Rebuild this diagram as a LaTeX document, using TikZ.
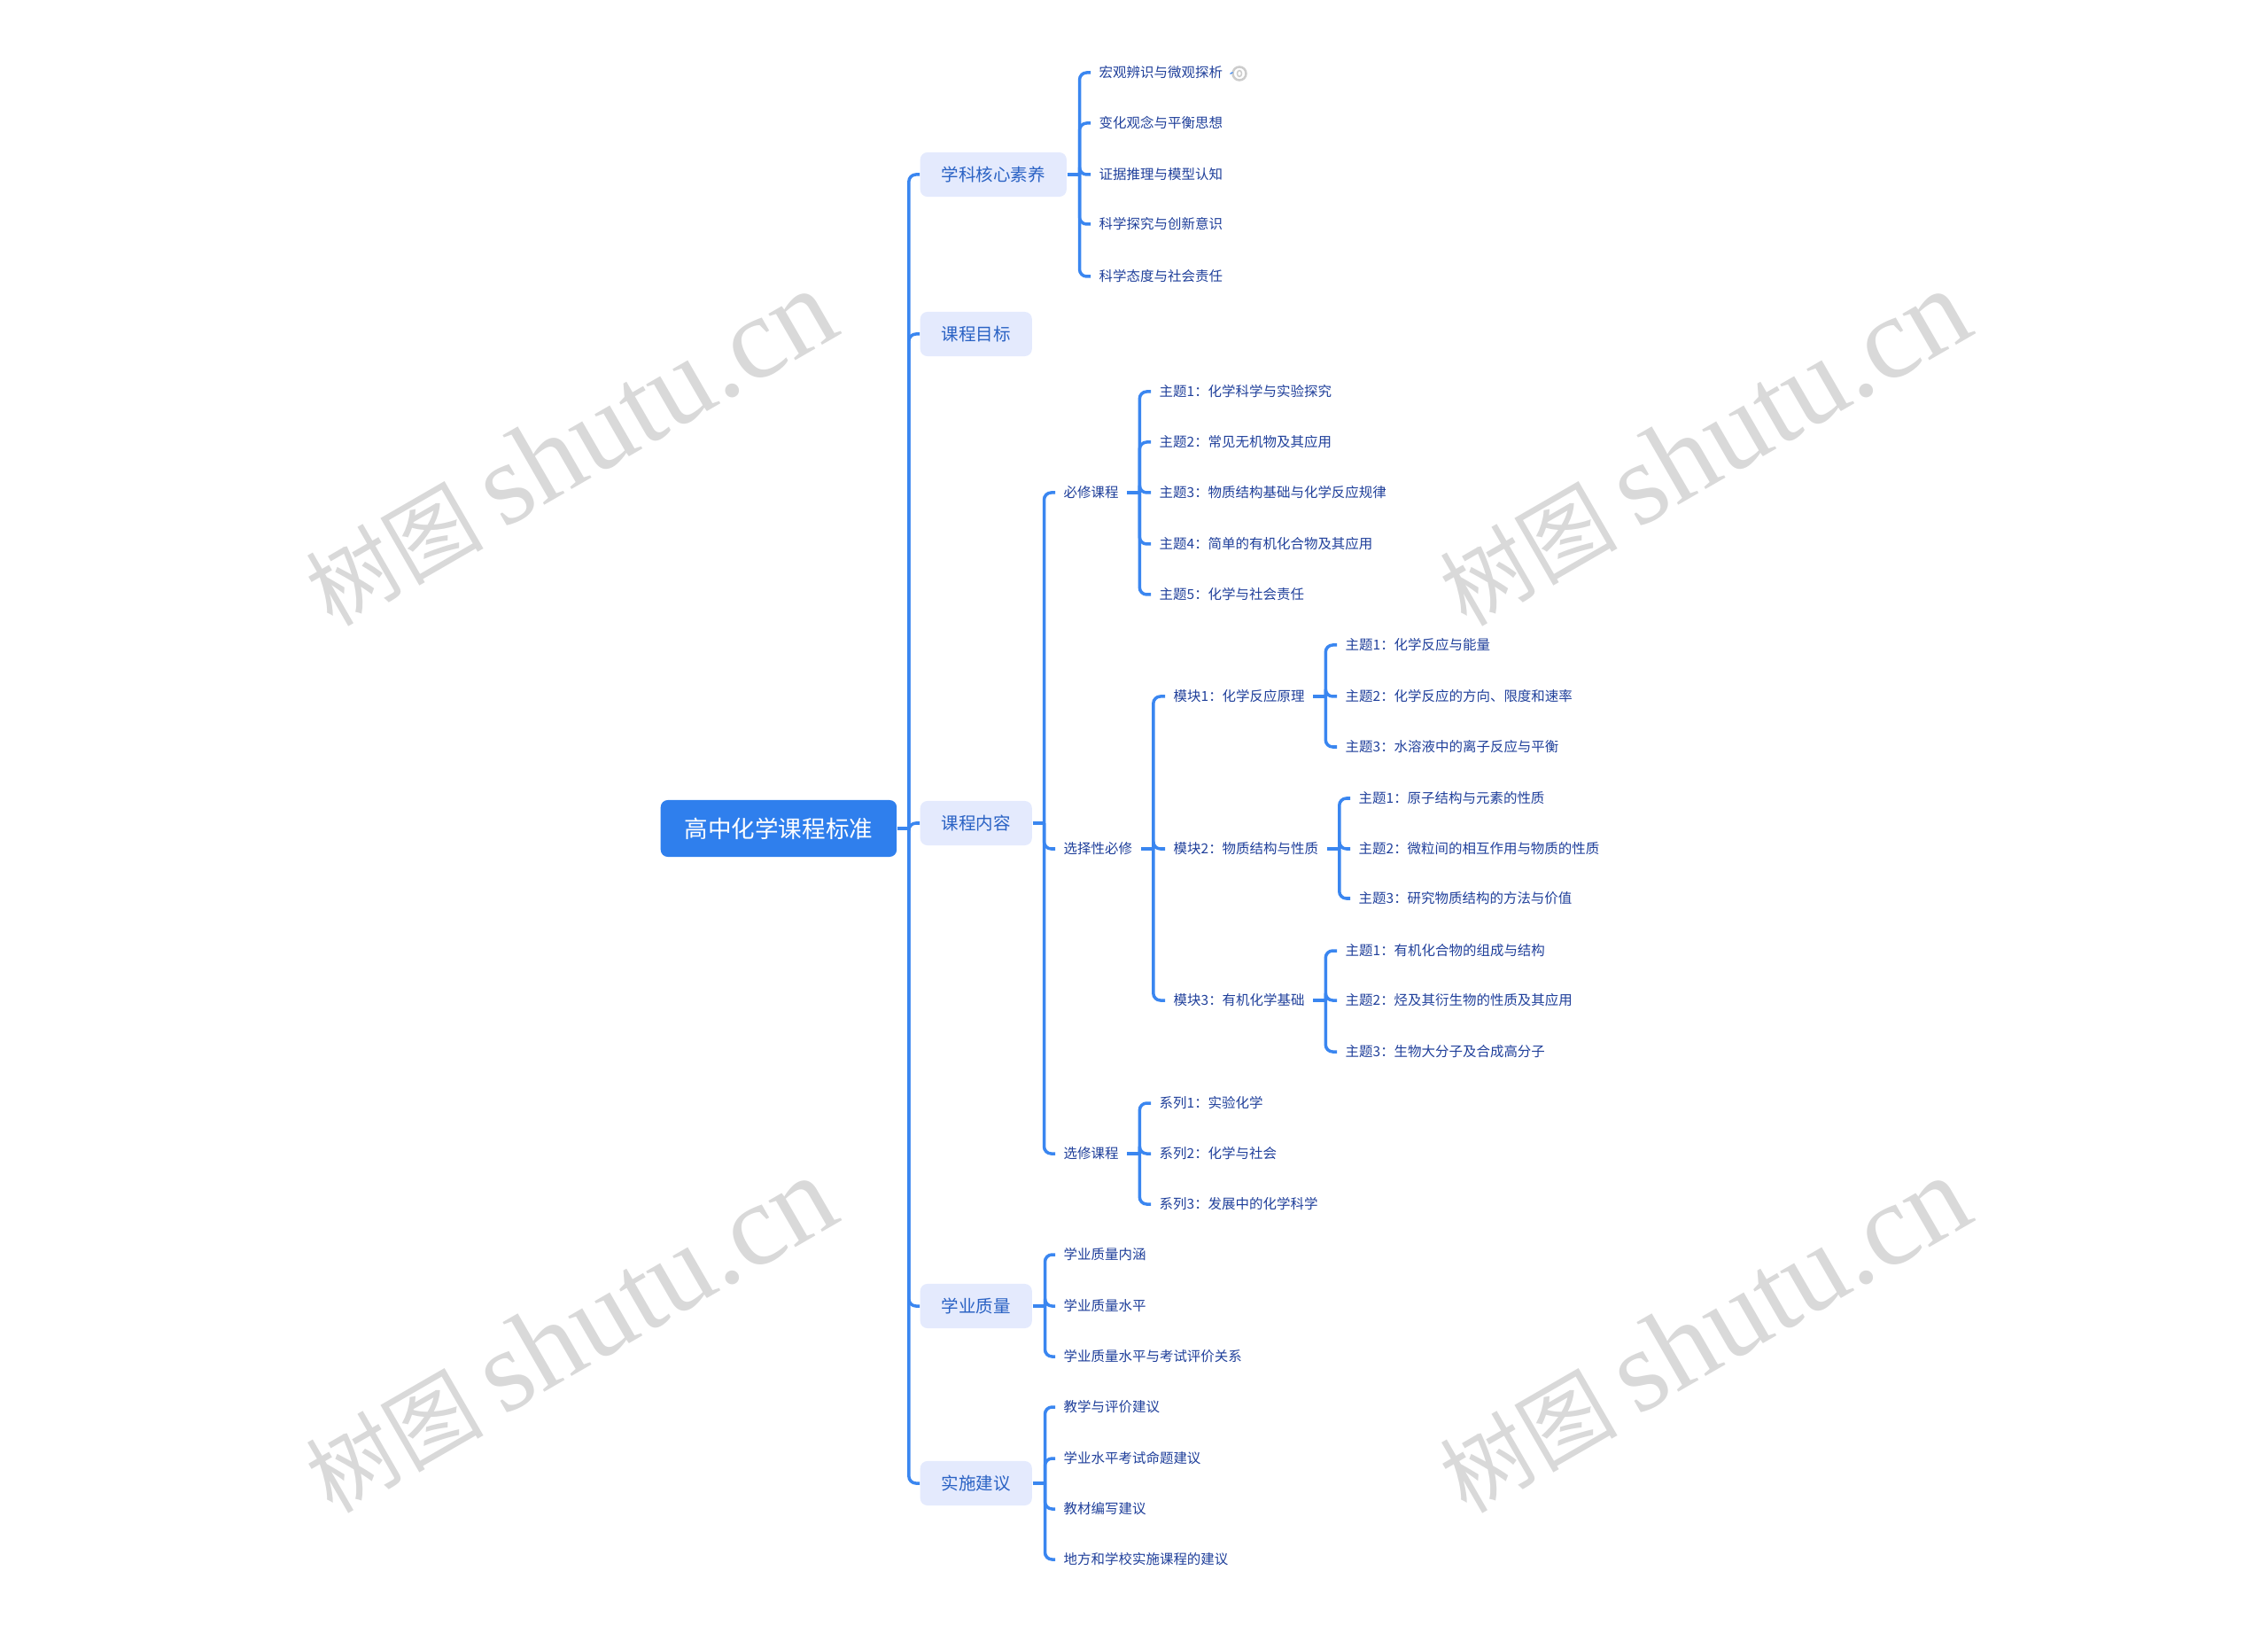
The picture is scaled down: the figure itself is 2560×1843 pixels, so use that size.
\documentclass[tikz,border=0pt]{standalone}
\usepackage{fontspec}
\setmainfont{Noto Sans CJK SC}
\newfontfamily\markfont{Liberation Serif}
\usetikzlibrary{shapes}
\usetikzlibrary{arrows}
\definecolor{linkblue}{HTML}{3A86F0}
\definecolor{rootblue}{HTML}{2F7FED}
\definecolor{topicfill}{HTML}{E4EAFD}
\definecolor{topictext}{HTML}{2A62C4}
\definecolor{leaftext}{HTML}{1F3F9A}
\definecolor{markgray}{HTML}{D9D9D9}
\definecolor{ringgray}{HTML}{CCCCCC}
\tikzset{
  root/.style={fill=rootblue,text=white,rounded corners=0.08cm,anchor=west,inner xsep=0.27cm,inner ysep=0pt,minimum height=0.64cm,font=\fontsize{7.55}{9}\selectfont},
  topic/.style={fill=topicfill,text=topictext,rounded corners=0.08cm,anchor=west,inner xsep=0.24cm,inner ysep=0pt,minimum height=0.5cm,font=\fontsize{5.55}{7}\selectfont},
  leaf/.style={text=leaftext,anchor=west,inner xsep=0.09cm,inner ysep=0pt,font=\fontsize{4.4}{5.5}\selectfont},
  link/.style={draw=linkblue,line width=0.035cm,rounded corners=0.08cm},
  ring/.style={circle,draw=ringgray,fill=white,line width=0.025cm,inner sep=0pt,minimum size=0.15cm},
  watermark/.style={text=markgray,rotate=30,font=\fontsize{28.5}{32}\selectfont}
}
\begin{document}
\begin{tikzpicture}[x=0.01cm,y=-0.01cm]
        \useasboundingbox (0,0) rectangle (2560,1843);
        \foreach \wx/\wy/\wname in {643/506/marka,1923/506/markb,643/1507/markc,1923/1507/markd}
                \draw (\wx,\wy) node[watermark] (\wname) {树图 {\markfont\fontsize{37.5}{40}\selectfont shutu.cn}};
        \draw (745,935) node[root] (gaozhong) {高中化学课程标准};
        \draw (1038,197) node[topic] (hexin) {学科核心素养};
        \draw (1038,377) node[topic] (mubiao) {课程目标};
        \draw (1038,929) node[topic] (neirong) {课程内容};
        \draw (1038,1474) node[topic] (zhiliang) {学业质量};
        \draw (1038,1674) node[topic] (jianyi) {实施建议};
        \draw (1231,82) node[leaf] (hexina) {宏观辨识与微观探析};
        \draw (1399,83) node[ring] (noteicon) {};
        \draw (1231,139) node[leaf] (hexinb) {变化观念与平衡思想};
        \draw (1231,197) node[leaf] (hexinc) {证据推理与模型认知};
        \draw (1231,253) node[leaf] (hexind) {科学探究与创新意识};
        \draw (1231,312) node[leaf] (hexine) {科学态度与社会责任};
        \draw (1191,556) node[leaf] (bixiu) {必修课程};
        \draw (1191,958) node[leaf] (xuanze) {选择性必修};
        \draw (1191,1302) node[leaf] (xuanxiu) {选修课程};
        \draw (1299,442) node[leaf] (bixiua) {主题1：化学科学与实验探究};
        \draw (1299,499) node[leaf] (bixiub) {主题2：常见无机物及其应用};
        \draw (1299,556) node[leaf] (bixiuc) {主题3：物质结构基础与化学反应规律};
        \draw (1299,614) node[leaf] (bixiud) {主题4：简单的有机化合物及其应用};
        \draw (1299,671) node[leaf] (bixiue) {主题5：化学与社会责任};
        \draw (1315,786) node[leaf] (mokuaia) {模块1：化学反应原理};
        \draw (1315,958) node[leaf] (mokuaib) {模块2：物质结构与性质};
        \draw (1315,1129) node[leaf] (mokuaic) {模块3：有机化学基础};
        \draw (1509,728) node[leaf] (yuanlia) {主题1：化学反应与能量};
        \draw (1509,786) node[leaf] (yuanlib) {主题2：化学反应的方向、限度和速率};
        \draw (1509,843) node[leaf] (yuanlic) {主题3：水溶液中的离子反应与平衡};
        \draw (1524,901) node[leaf] (jiegoua) {主题1：原子结构与元素的性质};
        \draw (1524,958) node[leaf] (jiegoub) {主题2：微粒间的相互作用与物质的性质};
        \draw (1524,1014) node[leaf] (jiegouc) {主题3：研究物质结构的方法与价值};
        \draw (1509,1073) node[leaf] (youjia) {主题1：有机化合物的组成与结构};
        \draw (1509,1129) node[leaf] (youjib) {主题2：烃及其衍生物的性质及其应用};
        \draw (1509,1187) node[leaf] (youjic) {主题3：生物大分子及合成高分子};
        \draw (1299,1245) node[leaf] (xilia) {系列1：实验化学};
        \draw (1299,1302) node[leaf] (xilib) {系列2：化学与社会};
        \draw (1299,1359) node[leaf] (xilic) {系列3：发展中的化学科学};
        \draw (1191,1416) node[leaf] (zhilianga) {学业质量内涵};
        \draw (1191,1474) node[leaf] (zhiliangb) {学业质量水平};
        \draw (1191,1531) node[leaf] (zhiliangc) {学业质量水平与考试评价关系};
        \draw (1191,1588) node[leaf] (jianyia) {教学与评价建议};
        \draw (1191,1646) node[leaf] (jianyib) {学业水平考试命题建议};
        \draw (1191,1703) node[leaf] (jianyic) {教材编写建议};
        \draw (1191,1760) node[leaf] (jianyid) {地方和学校实施课程的建议};
        \draw[ringgray, line width=0.015cm] (noteicon.center) ellipse [x radius=2.5, y radius=3.5];
        \draw[link] (hexina.east) -- (noteicon.west);
        \draw[link] (gaozhong.east) -- ++(13,0);
        \foreach \kid in {hexin,mubiao,neirong,zhiliang,jianyi}
                \draw[link] (gaozhong.east) ++(13,0) |- (\kid.west);
        \draw[link] (hexin.east) -- ++(14,0);
        \foreach \kid in {hexina,hexinb,hexinc,hexind,hexine}
                \draw[link] (hexin.east) ++(14,0) |- (\kid.west);
        \draw[link] (neirong.east) -- ++(13,0);
        \foreach \kid in {bixiu,xuanze,xuanxiu}
                \draw[link] (neirong.east) ++(13,0) |- (\kid.west);
        \draw[link] (bixiu.east) -- ++(14,0);
        \foreach \kid in {bixiua,bixiub,bixiuc,bixiud,bixiue}
                \draw[link] (bixiu.east) ++(14,0) |- (\kid.west);
        \draw[link] (xuanze.east) -- ++(14,0);
        \foreach \kid in {mokuaia,mokuaib,mokuaic}
                \draw[link] (xuanze.east) ++(14,0) |- (\kid.west);
        \draw[link] (mokuaia.east) -- ++(14,0);
        \foreach \kid in {yuanlia,yuanlib,yuanlic}
                \draw[link] (mokuaia.east) ++(14,0) |- (\kid.west);
        \draw[link] (mokuaib.east) -- ++(14,0);
        \foreach \kid in {jiegoua,jiegoub,jiegouc}
                \draw[link] (mokuaib.east) ++(14,0) |- (\kid.west);
        \draw[link] (mokuaic.east) -- ++(14,0);
        \foreach \kid in {youjia,youjib,youjic}
                \draw[link] (mokuaic.east) ++(14,0) |- (\kid.west);
        \draw[link] (xuanxiu.east) -- ++(14,0);
        \foreach \kid in {xilia,xilib,xilic}
                \draw[link] (xuanxiu.east) ++(14,0) |- (\kid.west);
        \draw[link] (zhiliang.east) -- ++(14,0);
        \foreach \kid in {zhilianga,zhiliangb,zhiliangc}
                \draw[link] (zhiliang.east) ++(14,0) |- (\kid.west);
        \draw[link] (jianyi.east) -- ++(14,0);
        \foreach \kid in {jianyia,jianyib,jianyic,jianyid}
                \draw[link] (jianyi.east) ++(14,0) |- (\kid.west);
\end{tikzpicture}
\end{document}
